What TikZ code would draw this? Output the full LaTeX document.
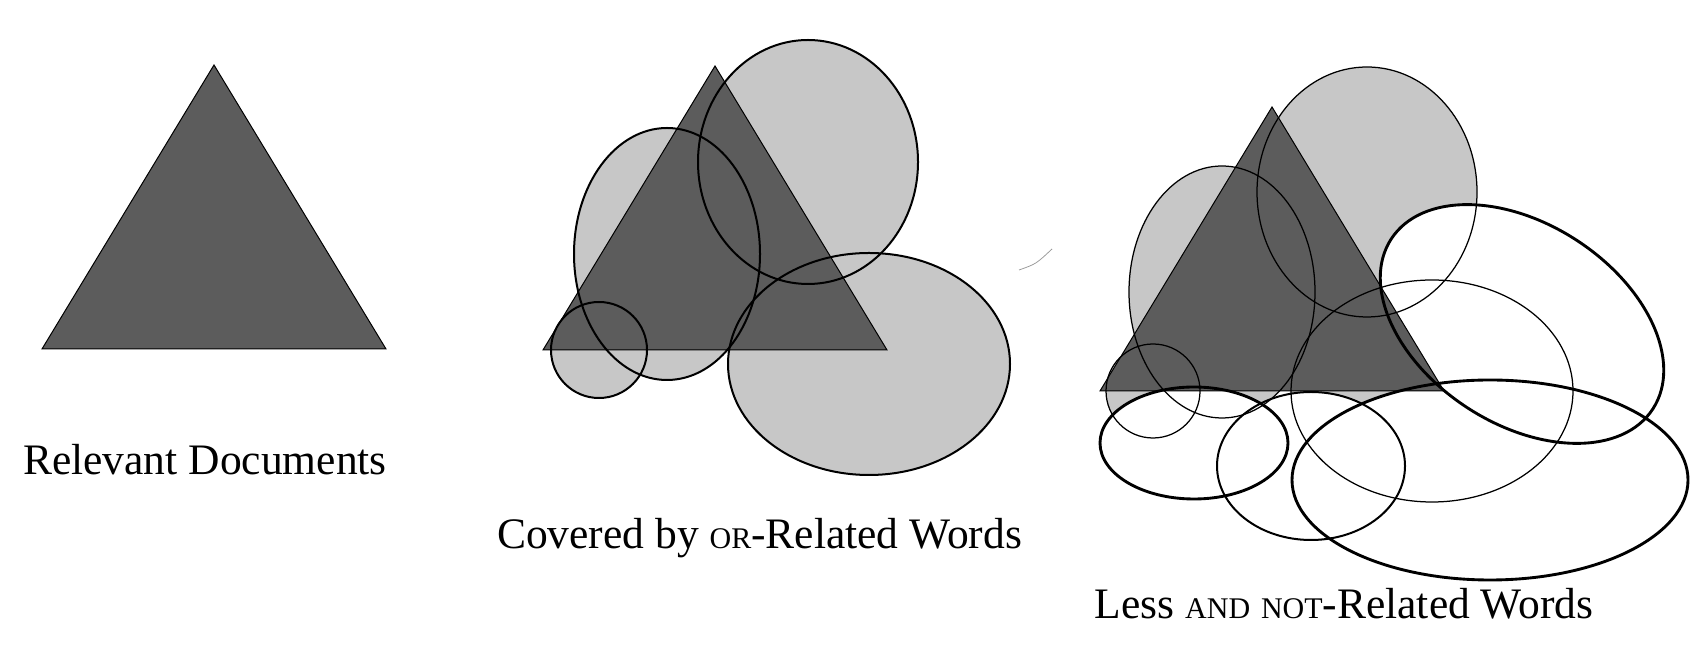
\documentclass[tikz,border=0pt]{standalone}
\usepackage{fontspec}
\setmainfont{Liberation Serif}
\usetikzlibrary{calc}
\def\reltri(#1,#2){\path[relevant] (#1,#2) -- ++(-172,284) -- ++(344,0) -- cycle;}
\newcommand\minicaps[1]{{\fontsize{12}{14}\selectfont #1}}

\begin{document}
\begin{tikzpicture}[x=0.4pt,y=-0.4pt,
		relevant/.style={fill=black!64,draw=black,line width=0.4pt},
		orword/.style={fill=black!22},
		ring/.style={draw=black,line width=0.8pt},
		thinring/.style={draw=black,line width=0.5pt},
		lessword/.style={fill=white},
		lessring/.style={draw=black,line width=1.15pt},
		caption/.style={anchor=base,inner sep=0pt,font=\fontsize{17.4}{20}\selectfont}]
			%%%%% START %%%%%
			
			\fill[white] (0,0) rectangle (1699,650);
			
			% relevant documents
			\reltri(214,65)
			\node[caption] (reldocs) at (205,475) {Relevant Documents};
			
			% or-related words
			\fill[orword] (808,162) ellipse (110 and 122);
			\fill[orword] (667,254) ellipse (93 and 126);
			\fill[orword] (599,350) circle (48);
			\fill[orword] (869,364) ellipse (141 and 111);
			\reltri(715,66)
			\draw[ring] (808,162) ellipse (110 and 122);
			\draw[ring] (667,254) ellipse (93 and 126);
			\draw[ring] (599,350) circle (48);
			\draw[ring] (869,364) ellipse (141 and 111);
			\draw[black!40,line width=0.3pt] (1019,270) .. controls (1036,264) .. (1052,249);
			\node[caption] (orwords) at (759.5,549) {Covered by \minicaps{OR}-Related Words};
			
			% and / not-related words
			\fill[orword] (1367,192) ellipse (110 and 125);
			\fill[orword] (1222,292) ellipse (93 and 126);
			\fill[orword] (1153,391) circle (47);
			\fill[orword] (1432,391) ellipse (141 and 111);
			
			\fill[lessword,rotate around={-33:(1522,324)}] (1522,324) ellipse (156 and 100);
			\fill[lessword] (1194,443) ellipse (94 and 56);
			\fill[lessword] (1490,480) ellipse (198 and 100);
			\fill[lessword] (1311,466) ellipse (94 and 74);
			
			\reltri(1272,107)
			
			\draw[thinring] (1367,192) ellipse (110 and 125);
			\draw[thinring] (1222,292) ellipse (93 and 126);
			\draw[thinring] (1153,391) circle (47);
			\draw[thinring] (1432,391) ellipse (141 and 111);
			
			\draw[lessring,rotate around={-33:(1522,324)}] (1522,324) ellipse (156 and 100);
			\draw[lessring] (1194,443) ellipse (94 and 56);
			\draw[lessring] (1490,480) ellipse (198 and 100);
			\draw[ring] (1311,466) ellipse (94 and 74);
			
			\node[caption] (lesswords) at (1344,619) {Less \minicaps{AND} \minicaps{NOT}-Related Words};
			
			%%%%% END %%%%%
\end{tikzpicture}
\end{document}
